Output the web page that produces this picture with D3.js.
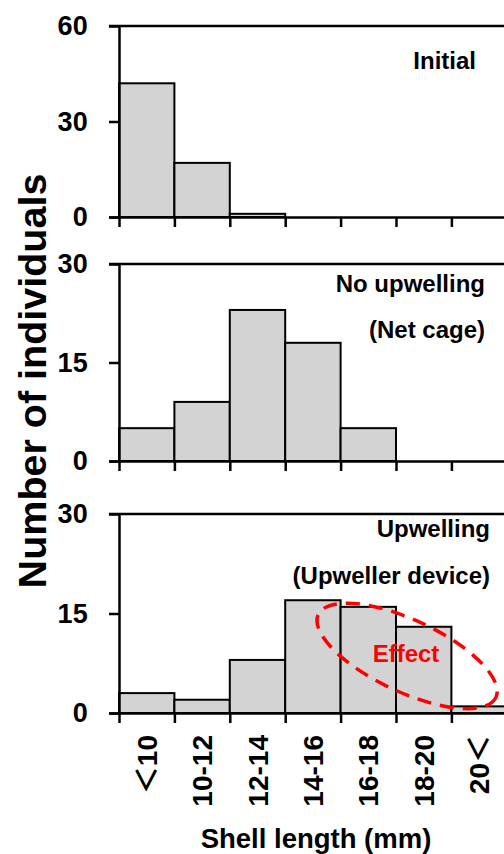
<!DOCTYPE html>
<html>
<head>
<meta charset="utf-8">
<script src="https://cdn.jsdelivr.net/npm/d3@7"></script>
<style>
  body { margin: 0; background: #fff; }
  svg text { font-family: "Liberation Sans", Arial, "Noto Sans CJK JP", sans-serif; font-weight: bold; fill: #000; }
</style>
</head>
<body>
<svg width="504" height="854"></svg>
<script>
const bins = ["＜10", "10-12", "12-14", "14-16", "16-18", "18-20", "20＜"];
const initial = [42, 17, 1, 0, 0, 0, 0];
const noUpwelling = [5, 9, 23, 18, 5, 0, 0];
const upwelling = [3, 2, 8, 17, 16, 13, 1];
const panelMax = [60, 30, 30];
const panelTicks = [[0, 30, 60], [0, 15, 30], [0, 15, 30]];
const panelTitles = [["Initial"], ["No upwelling", "(Net cage)"], ["Upwelling", "(Upweller device)"]];

const svg = d3.select("svg");
const w = 504;
const left = 119;
const binW = 55.4;

const xBand = d3.scaleBand().domain(bins).range([left, left + binW * bins.length]).padding(0);
const xEdge = d3.scaleLinear().domain([0, bins.length]).range([left, left + binW * bins.length]);

// top/bottom pixel rows of each panel
const panels = [
  { data: initial, top: 26, bottom: 217, titleX: [476], titleY: [69] },
  { data: noUpwelling, top: 264, bottom: 461, titleX: [485, 485], titleY: [292, 338] },
  { data: upwelling, top: 514, bottom: 713, titleX: [490, 490], titleY: [537, 584] },
];

panels.forEach((p, i) => {
  const y = d3.scaleLinear().domain([0, panelMax[i]]).range([p.bottom, p.top]);
  const g = svg.append("g");

  g.selectAll("rect")
    .data(p.data)
    .join("rect")
    .attr("x", (d, j) => xBand(bins[j]))
    .attr("y", (d) => y(d))
    .attr("width", xBand.bandwidth())
    .attr("height", (d) => y(0) - y(d))
    .attr("fill", "#d3d3d3")
    .attr("stroke", "#000")
    .attr("stroke-width", 2);

  // line at max value across the panel
  g.append("line")
    .attr("x1", left - 10).attr("x2", w)
    .attr("y1", y(panelMax[i])).attr("y2", y(panelMax[i]))
    .attr("stroke", "#000").attr("stroke-width", 2.5);

  // x axis with ticks at bin edges
  const xa = g.append("g")
    .attr("transform", `translate(0,${p.bottom})`)
    .call(d3.axisBottom(xEdge).tickValues(d3.range(0, bins.length + 1)).tickSize(10).tickSizeOuter(0).tickFormat(""));
  xa.select(".domain").attr("stroke-width", 2.5).attr("d", `M${left - 10},0.5H${w}`);
  xa.selectAll(".tick line").attr("stroke-width", 2.5);

  // y axis
  const ya = g.append("g")
    .attr("transform", `translate(${left},0)`)
    .call(d3.axisLeft(y).tickValues(panelTicks[i]).tickSize(10).tickSizeOuter(0).tickPadding(20));
  ya.select(".domain").attr("stroke-width", 2.5);
  ya.selectAll(".tick line").attr("stroke-width", 2.5);
  ya.selectAll(".tick text").attr("font-size", 27).attr("dx", "-0.05em");

  panelTitles[i].forEach((t, k) => {
    g.append("text")
      .attr("x", p.titleX[k]).attr("y", p.titleY[k])
      .attr("text-anchor", "end")
      .attr("font-size", 24)
      .text(t);
  });

  if (i === 2) {
    // "Effect" annotation
    const cx = xEdge(5.2), cy = y(8.6);
    g.append("ellipse")
      .attr("cx", cx).attr("cy", cy)
      .attr("rx", 98).attr("ry", 36)
      .attr("transform", `rotate(25,${cx},${cy})`)
      .attr("fill", "none")
      .attr("stroke", "#ff0000")
      .attr("stroke-width", 3.5)
      .attr("stroke-dasharray", "14,9");
    g.append("text")
      .attr("x", 406).attr("y", 662)
      .attr("text-anchor", "middle")
      .attr("font-size", 24)
      .style("fill", "#ff0000")
      .text("Effect");
  }
});

// category labels below bottom panel
svg.append("g")
  .selectAll("text")
  .data(bins)
  .join("text")
  .attr("transform", (d) => `translate(${xBand(d) + xBand.bandwidth() / 2 + 10},735) rotate(-90)`)
  .attr("text-anchor", "end")
  .attr("font-size", 28)
  .text((d) => d);

svg.append("text")
  .attr("x", 316).attr("y", 848)
  .attr("text-anchor", "middle")
  .attr("font-size", 27.5)
  .text("Shell length (mm)");

svg.append("text")
  .attr("transform", "translate(46,381) rotate(-90)")
  .attr("text-anchor", "middle")
  .attr("font-size", 39.5)
  .text("Number of individuals");
</script>
</body>
</html>
